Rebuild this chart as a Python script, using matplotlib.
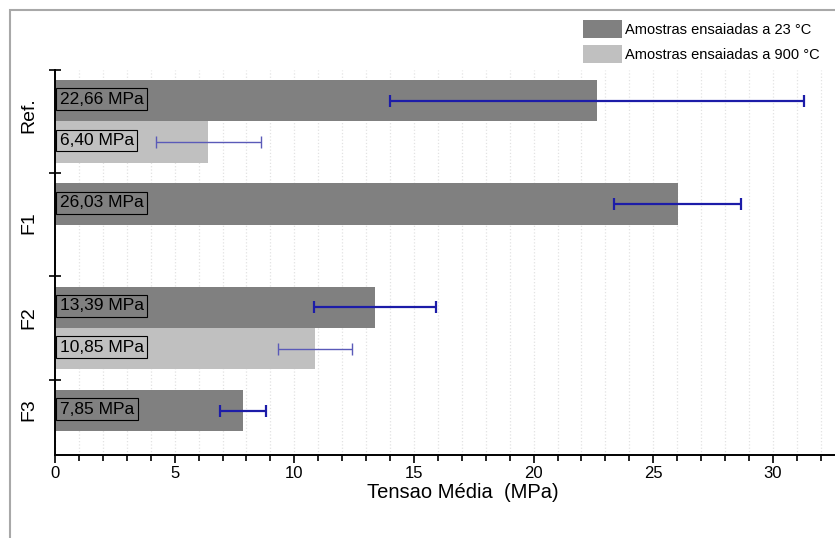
import numpy as np
import matplotlib
matplotlib.use('Agg')
import matplotlib.pyplot as plt
from matplotlib.patches import Rectangle, Patch
from matplotlib.ticker import MultipleLocator, FixedLocator

plt.rcParams['font.family'] = ['Liberation Sans', 'DejaVu Sans']

# data
categorias = ['Ref.', 'F1', 'F2', 'F3']
tensao_23 = [22.66, 26.03, 13.39, 7.85]
erro_23 = [8.65, 2.65, 2.55, 0.95]
tensao_900 = [6.40, np.nan, 10.85, np.nan]
erro_900 = [2.20, np.nan, 1.55, np.nan]
legenda = ['Amostras ensaiadas a 23 °C', 'Amostras ensaiadas a 900 °C']

cor_23 = '#808080'
cor_900 = '#c0c0c0'

W, H = 835, 538
fig = plt.figure(figsize=(W / 100, H / 100), dpi=100)
# axes runs a bit past the right edge, like the cropped original
ax = fig.add_axes([55 / W, 1 - 455 / H, 815 / W, (455 - 69.5) / H])

idx = np.arange(len(categorias))
y23 = idx + 0.3
y900 = idx + 0.7
ax.barh(y23, tensao_23, height=0.4, color=cor_23, zorder=2)
ax.barh(y900, tensao_900, height=0.4, color=cor_900, zorder=2)

ax.errorbar(tensao_23, y23, xerr=erro_23, fmt='none', ecolor='#1c1ca8',
            elinewidth=1.6, capsize=4, capthick=1.6, zorder=3)
ax.errorbar(tensao_900, y900, xerr=erro_900, fmt='none', ecolor='#5a5ab8',
            elinewidth=1.0, capsize=4, capthick=1.0, zorder=3)

# value boxes at the start of each bar
for vals, ys, cor in [(tensao_23, y23, cor_23), (tensao_900, y900, cor_900)]:
    for v, y in zip(vals, ys):
        if np.isnan(v):
            continue
        txt = '{:.2f} MPa'.format(v).replace('.', ',')
        ax.annotate(txt, xy=(0, y), xytext=(3.5, 1), textcoords='offset points',
                    va='center', ha='left', fontsize=12.5, zorder=4,
                    bbox=dict(boxstyle='square,pad=0.2', fc=cor, ec='black', lw=0.8))

ax.set_xlim(0, 815 / 23.93)
ax.set_ylim((455 - 69.5) / 103.4, 0)

# x axis
ax.xaxis.set_major_locator(MultipleLocator(5))
ax.xaxis.set_minor_locator(MultipleLocator(1))
ax.tick_params(axis='x', which='major', direction='out', length=6, width=1.2,
               labelsize=12, pad=2)
ax.tick_params(axis='x', which='minor', direction='out', length=4, width=1.2)
ax.grid(True, axis='x', which='both', color='#e2e2e2', linestyle=':', lw=0.9, zorder=0)
ax.set_axisbelow(True)
ax.set_xlabel('Tensao Média  (MPa)', fontsize=14.5, labelpad=1)

# y axis: labels without ticks, "+" ticks between groups
ylabel_pos = [0.44, 1.485, 2.40, 3.29]
ax.yaxis.set_major_locator(FixedLocator(ylabel_pos))
ax.set_yticklabels(categorias, rotation=90, va='center', fontsize=14)
ax.yaxis.set_minor_locator(FixedLocator(idx))
ax.tick_params(axis='y', which='major', length=0, pad=13)
ax.tick_params(axis='y', which='minor', direction='inout', length=9, width=1.2)

for s in ['top', 'right']:
    ax.spines[s].set_visible(False)
for s in ['left', 'bottom']:
    ax.spines[s].set_linewidth(1.4)

handles = [Patch(facecolor=cor_23), Patch(facecolor=cor_900)]
fig.legend(handles, legenda, loc='upper left', bbox_to_anchor=(583 / W, 1 - 20 / H),
           frameon=False, fontsize=10.5, handlelength=2.7, handleheight=1.55,
           handletextpad=0.2, labelspacing=0.45, borderaxespad=0, borderpad=0)

# grey outer frame of the original export
fig.add_artist(Rectangle((10 / W, -0.1), 1.2, 1.1 - 10 / H, transform=fig.transFigure,
                         fill=False, ec='#a8a8a8', lw=1.5))

fig.savefig('out.png', dpi=100)
